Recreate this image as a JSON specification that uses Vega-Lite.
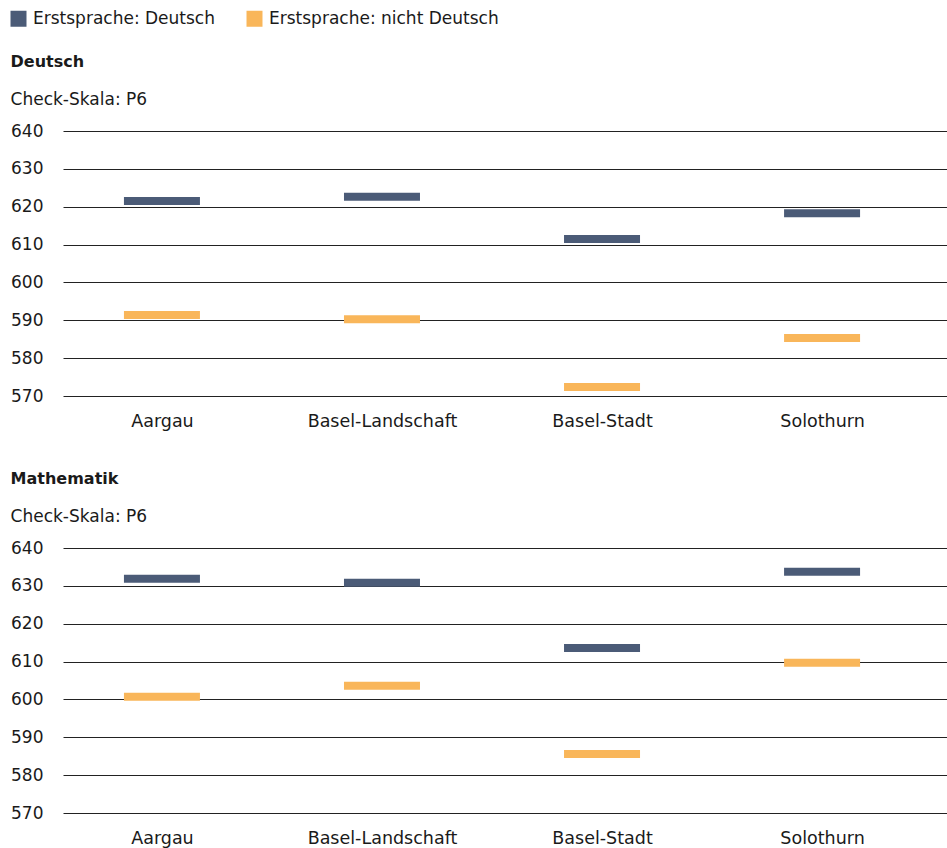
{
  "$schema": "https://vega.github.io/schema/vega-lite/v6.json",
  "padding": {"left": 10, "top": 10, "right": 0, "bottom": 5},
  "background": "white",
  "config": {
    "font": "DejaVu Sans",
    "view": {"stroke": null},
    "title": {"anchor": "start", "frame": "bounds", "font": "DejaVu Sans", "fontSize": 16, "fontWeight": "bold", "color": "#1a1a1a", "subtitleFont": "DejaVu Sans", "subtitleFontSize": 17, "subtitleColor": "#1a1a1a", "subtitlePadding": 22, "offset": 14},
    "axis": {"labelFontSize": 17, "labelColor": "#1a1a1a", "domain": false, "ticks": false, "title": null, "labelFont": "DejaVu Sans"},
    "legend": {"labelFont": "DejaVu Sans"}
  },
  "data": {"values": [
    {"fach": "Deutsch", "kanton": "Aargau", "gruppe": "Erstsprache: Deutsch", "wert": 621.5},
    {"fach": "Deutsch", "kanton": "Aargau", "gruppe": "Erstsprache: nicht Deutsch", "wert": 591.4},
    {"fach": "Deutsch", "kanton": "Basel-Landschaft", "gruppe": "Erstsprache: Deutsch", "wert": 622.6},
    {"fach": "Deutsch", "kanton": "Basel-Landschaft", "gruppe": "Erstsprache: nicht Deutsch", "wert": 590.3},
    {"fach": "Deutsch", "kanton": "Basel-Stadt", "gruppe": "Erstsprache: Deutsch", "wert": 611.5},
    {"fach": "Deutsch", "kanton": "Basel-Stadt", "gruppe": "Erstsprache: nicht Deutsch", "wert": 572.4},
    {"fach": "Deutsch", "kanton": "Solothurn", "gruppe": "Erstsprache: Deutsch", "wert": 618.3},
    {"fach": "Deutsch", "kanton": "Solothurn", "gruppe": "Erstsprache: nicht Deutsch", "wert": 585.3},
    {"fach": "Mathematik", "kanton": "Aargau", "gruppe": "Erstsprache: Deutsch", "wert": 631.9},
    {"fach": "Mathematik", "kanton": "Aargau", "gruppe": "Erstsprache: nicht Deutsch", "wert": 600.7},
    {"fach": "Mathematik", "kanton": "Basel-Landschaft", "gruppe": "Erstsprache: Deutsch", "wert": 630.8},
    {"fach": "Mathematik", "kanton": "Basel-Landschaft", "gruppe": "Erstsprache: nicht Deutsch", "wert": 603.6},
    {"fach": "Mathematik", "kanton": "Basel-Stadt", "gruppe": "Erstsprache: Deutsch", "wert": 613.6},
    {"fach": "Mathematik", "kanton": "Basel-Stadt", "gruppe": "Erstsprache: nicht Deutsch", "wert": 585.6},
    {"fach": "Mathematik", "kanton": "Solothurn", "gruppe": "Erstsprache: Deutsch", "wert": 633.7},
    {"fach": "Mathematik", "kanton": "Solothurn", "gruppe": "Erstsprache: nicht Deutsch", "wert": 609.7}
  ]},
  "spacing": 41,
  "vconcat": [
    {
      "title": {"text": "Deutsch", "subtitle": "Check-Skala: P6"},
      "transform": [{"filter": "datum.fach === 'Deutsch'"}],
      "width": 885,
      "height": 265,
      "mark": {"type": "tick", "size": 76, "thickness": 8, "opacity": 1},
      "encoding": {
        "x": {"field": "kanton", "type": "nominal", "sort": ["Aargau", "Basel-Landschaft", "Basel-Stadt", "Solothurn"],
              "scale": {"type": "point", "padding": 0.511, "align": 0.44},
              "axis": {"labelAngle": 0, "labelPadding": 16, "grid": false, "labelFontSize": 17.5}},
        "y": {"field": "wert", "type": "quantitative",
              "scale": {"domain": [570, 640], "nice": false, "zero": false},
              "axis": {"values": [570, 580, 590, 600, 610, 620, 630, 640], "grid": true, "gridColor": "#222222", "gridOpacity": 1, "labelPadding": 20}},
        "color": {"field": "gruppe", "type": "nominal",
                  "scale": {"domain": ["Erstsprache: Deutsch", "Erstsprache: nicht Deutsch"], "range": ["#4b5b77", "#f9b65a"]},
                  "legend": {"orient": "none", "legendX": -53, "legendY": -121, "direction": "horizontal", "title": null, "symbolType": "square", "symbolSize": 256, "symbolOpacity": 1, "symbolStrokeWidth": 0, "labelFontSize": 17, "labelColor": "#1a1a1a", "labelOffset": 6, "labelLimit": 0, "columnPadding": 31}}
      }
    },
    {
      "title": {"text": "Mathematik", "subtitle": "Check-Skala: P6"},
      "transform": [{"filter": "datum.fach === 'Mathematik'"}],
      "width": 885,
      "height": 265,
      "mark": {"type": "tick", "size": 76, "thickness": 8, "opacity": 1},
      "encoding": {
        "x": {"field": "kanton", "type": "nominal", "sort": ["Aargau", "Basel-Landschaft", "Basel-Stadt", "Solothurn"],
              "scale": {"type": "point", "padding": 0.511, "align": 0.44},
              "axis": {"labelAngle": 0, "labelPadding": 16, "grid": false, "labelFontSize": 17.5}},
        "y": {"field": "wert", "type": "quantitative",
              "scale": {"domain": [570, 640], "nice": false, "zero": false},
              "axis": {"values": [570, 580, 590, 600, 610, 620, 630, 640], "grid": true, "gridColor": "#222222", "gridOpacity": 1, "labelPadding": 20}},
        "color": {"field": "gruppe", "type": "nominal",
                  "scale": {"domain": ["Erstsprache: Deutsch", "Erstsprache: nicht Deutsch"], "range": ["#4b5b77", "#f9b65a"]},
                  "legend": {"orient": "none", "legendX": -53, "legendY": -121, "direction": "horizontal", "title": null, "symbolType": "square", "symbolSize": 256, "symbolOpacity": 1, "symbolStrokeWidth": 0, "labelFontSize": 17, "labelColor": "#1a1a1a", "labelOffset": 6, "labelLimit": 0, "columnPadding": 31}}
      }
    }
  ]
}
